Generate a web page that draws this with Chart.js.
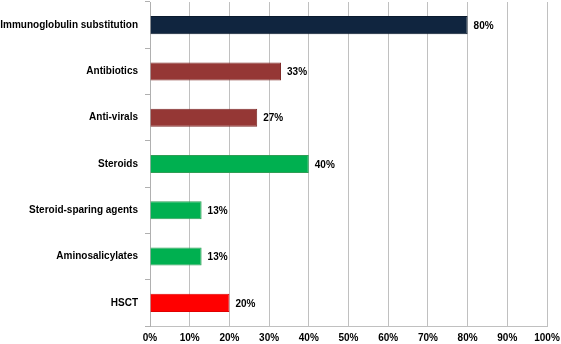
<!DOCTYPE html>
<html lang="en">
<head>
    <meta charset="UTF-8">
    <title>Treatments</title>
    <style>
        body { margin: 0; background: #fff; }
        #wrap { width: 561px; height: 344px; }
    </style>
</head>
<body>
    <div id="wrap"><canvas id="myChart"></canvas></div>
    <script src="https://cdn.jsdelivr.net/npm/chart.js@4/dist/chart.umd.min.js"></script>
    <script>
        // categories and values
        const categories = ['Immunoglobulin substitution', 'Antibiotics', 'Anti-virals', 'Steroids',
            'Steroid-sparing agents', 'Aminosalicylates', 'HSCT'];
        const percentages = [80, 33, 27, 40, 13, 13, 20];
        const barColors = ['#10253F', '#953735', '#953735', '#00B050', '#00B050', '#00B050', '#FF0000'];
        const borderColors = ['#0a1a2e', '#7f2d2b', '#7f2d2b', '#2f9e55', '#2f9e55', '#2f9e55', '#e00000'];
        const xTicks = [0, 10, 20, 30, 40, 50, 60, 70, 80, 90, 100];

        const boldFont = { family: 'Arial, "Liberation Sans", sans-serif', size: 10, weight: 'bold' };

        // draws the value next to each bar
        const valueLabels = {
            id: 'valueLabels',
            afterDatasetsDraw(chart) {
                const ctx = chart.ctx;
                const meta = chart.getDatasetMeta(0);
                ctx.save();
                ctx.font = 'bold 10px Arial, "Liberation Sans", sans-serif';
                ctx.fillStyle = '#000';
                ctx.textBaseline = 'middle';
                ctx.textAlign = 'left';
                meta.data.forEach((bar, i) => {
                    ctx.fillText(percentages[i] + '%', bar.x + 6, bar.y + 1);
                });
                ctx.restore();
            }
        };

        const ctx = document.getElementById('myChart').getContext('2d');
        new Chart(ctx, {
            type: 'bar',
            data: {
                labels: categories,
                datasets: [{
                    data: percentages,
                    backgroundColor: barColors,
                    borderColor: borderColors,
                    borderWidth: 1,
                    categoryPercentage: 1,
                    barPercentage: 0.39
                }]
            },
            options: {
                indexAxis: 'y',
                responsive: true,
                maintainAspectRatio: false,
                animation: false,
                layout: { padding: { top: 2, right: 14, left: 0, bottom: 0 } },
                plugins: {
                    legend: { display: false },
                    tooltip: { enabled: false }
                },
                scales: {
                    x: {
                        min: 0,
                        max: 100,
                        afterBuildTicks: s => { s.ticks = xTicks.map(v => ({ value: v })); },
                        afterFit: s => { s.height = 18; s.paddingLeft = 0; s.paddingRight = 0; },
                        grid: { color: '#c0c0c0', lineWidth: 1, tickLength: 0 },
                        border: { color: '#c0c0c0' },
                        ticks: {
                            color: '#000',
                            font: boldFont,
                            padding: 6,
                            maxRotation: 0,
                            callback: v => v + '%'
                        }
                    },
                    y: {
                        afterFit: s => { s.width = 150; s.paddingTop = 0; s.paddingBottom = 0; },
                        grid: { drawOnChartArea: false, color: '#b0b0b0', tickLength: 5, offset: true },
                        border: { color: '#b0b0b0' },
                        ticks: {
                            color: '#000',
                            font: boldFont,
                            padding: 7
                        }
                    }
                }
            },
            plugins: [valueLabels]
        });
    </script>
</body>
</html>
